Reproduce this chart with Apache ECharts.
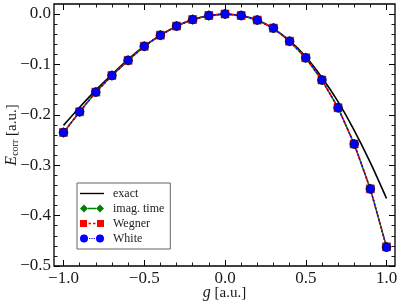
<!DOCTYPE html>
<html><head><meta charset="utf-8">
<script src="https://cdn.jsdelivr.net/npm/echarts@6/dist/echarts.min.js"></script>
<style>html,body{margin:0;padding:0;background:#fff}#c{width:399px;height:305px}</style>
</head><body><div id="c"></div>
<script>
// ---- data ----
const gValues = [-1.0,-0.9,-0.8,-0.7,-0.6,-0.5,-0.4,-0.3,-0.2,-0.1,0.0,0.1,0.2,0.3,0.4,0.5,0.6,0.7,0.8,0.9,1.0];
const exactE = [-0.221,-0.185,-0.151,-0.120,-0.090,-0.064,-0.042,-0.024,-0.011,-0.003,0.0,-0.003,-0.012,-0.029,-0.053,-0.085,-0.126,-0.174,-0.231,-0.295,-0.366];
const imagTimeE = [-0.235,-0.194,-0.155,-0.122,-0.092,-0.064,-0.042,-0.024,-0.011,-0.003,0.0,-0.003,-0.012,-0.028,-0.054,-0.087,-0.131,-0.186,-0.258,-0.347,-0.462];
const wegnerE = [-0.235,-0.194,-0.155,-0.122,-0.092,-0.064,-0.042,-0.024,-0.011,-0.003,0.0,-0.003,-0.012,-0.028,-0.054,-0.087,-0.131,-0.186,-0.258,-0.347,-0.462];
const whiteE = [-0.235,-0.194,-0.155,-0.122,-0.092,-0.064,-0.042,-0.024,-0.011,-0.003,0.0,-0.003,-0.012,-0.028,-0.054,-0.087,-0.131,-0.186,-0.258,-0.347,-0.463];
const xTickLabels = ['−1.0','−0.5','0.0','0.5','1.0'];
const yTickLabels = ['−0.5','−0.4','−0.3','−0.2','−0.1','0.0'];
const seriesNames = ['exact','imag. time','Wegner','White'];
const xTitle = '{i|g} [a.u.]';
const yTitle = '{i|E}{s|corr} [a.u.]';

// ---- chart ----
const FONT = 'Liberation Serif';
const TXT = '#1a1a1a';
const pairs = arr => gValues.map((g, i) => [g, arr[i]]);
const fmt = v => { if (Math.abs(v) < 1e-9) return '0.0'; return v.toFixed(1).replace('-', '−'); };
const tickStyle = {show: true, inside: true, length: 6, lineStyle: {color: '#000', width: 1}};
const minorStyle = {show: true, splitNumber: 5, length: 3.5, lineStyle: {color: '#000', width: 0.9}};
const noLine = {show: false, onZero: false};
const G = {containLabel: false, outerBoundsMode: 'none'};
const titleRich = {
  i: {fontFamily: FONT, fontSize: 16, fontStyle: 'italic', fill: TXT, color: TXT},
  s: {fontFamily: FONT, fontSize: 10, fill: TXT, color: TXT, padding: [6, 0, 0, 0], verticalAlign: 'bottom'}
};

const chart = echarts.init(document.getElementById('c'), null, {renderer: 'canvas'});
chart.setOption({
  animation: false,
  backgroundColor: '#fff',
  grid: [
    Object.assign({left: 54, right: 4, top: 4, bottom: 39, show: true, borderColor: '#000', borderWidth: 1.3, backgroundColor: 'transparent', z: 10}, G),
    Object.assign({left: 63.5, right: 12.5, top: 14, bottom: 39}, G),
    Object.assign({left: 54, right: 4, top: 14, bottom: 39}, G),
    Object.assign({left: 63.5, right: 12.5, top: 4, bottom: 39}, G)
  ],
  graphic: [
    {type: 'text', x: 224.5, y: 293, z: 20,
      style: {text: xTitle, rich: titleRich, fontFamily: FONT, fontSize: 15, fill: TXT, align: 'center', verticalAlign: 'middle'}},
    {type: 'text', x: 12, y: 135, rotation: Math.PI / 2, z: 20,
      style: {text: yTitle, rich: titleRich, fontFamily: FONT, fontSize: 15, fill: TXT, align: 'center', verticalAlign: 'middle'}}
  ],
  xAxis: [
    {gridIndex: 0, type: 'value', min: -1.059, max: 1.05, show: false, axisLine: noLine},
    {gridIndex: 1, type: 'value', min: -1, max: 1, interval: 0.5, position: 'bottom',
      axisLine: noLine, axisTick: tickStyle, minorTick: minorStyle, splitLine: {show: false},
      axisLabel: {margin: 4, fontFamily: FONT, fontSize: 17, color: TXT,
        formatter: v => xTickLabels[Math.round((v + 1) / 0.5)] || fmt(v)}},
    {gridIndex: 2, type: 'value', min: -1, max: 1, show: false, axisLine: noLine},
    {gridIndex: 3, type: 'value', min: -1, max: 1, interval: 0.5, position: 'top',
      axisLine: noLine, axisTick: tickStyle, minorTick: minorStyle, splitLine: {show: false}, axisLabel: {show: false}}
  ],
  yAxis: [
    {gridIndex: 0, type: 'value', min: -0.5, max: 0.02, show: false, axisLine: noLine},
    {gridIndex: 1, type: 'value', min: -0.5, max: 0, show: false, axisLine: noLine},
    {gridIndex: 2, type: 'value', min: -0.5, max: 0, interval: 0.1, position: 'left',
      axisLine: noLine, axisTick: tickStyle, minorTick: minorStyle, splitLine: {show: false},
      axisLabel: {margin: 3, fontFamily: FONT, fontSize: 17, color: TXT,
        formatter: v => yTickLabels[Math.round((v + 0.5) / 0.1)] || fmt(v)}},
    {gridIndex: 2, type: 'value', min: -0.5, max: 0, interval: 0.1, position: 'right',
      axisLine: noLine, axisTick: tickStyle, minorTick: minorStyle, splitLine: {show: false}, axisLabel: {show: false}},
    {gridIndex: 3, type: 'value', min: -0.5, max: 0.02, show: false, axisLine: noLine}
  ],
  legend: {
    orient: 'vertical', left: 77, top: 183,
    backgroundColor: '#fff', borderColor: '#555', borderWidth: 0.9, borderRadius: 0,
    padding: [4, 6, 4, 3], itemGap: 2, itemWidth: 24, itemHeight: 8,
    textStyle: {fontFamily: FONT, fontSize: 12, color: '#222', lineHeight: 13, padding: [0, 0, 0, 4]},
    data: [
      {name: seriesNames[0], icon: 'path://M0,3.3H24V4.7H0Z', itemStyle: {color: '#000', borderWidth: 0}},
      {name: seriesNames[1], icon: 'path://M0,4L4,0L8,4L4,8ZM16,4L20,0L24,4L20,8ZM8,3.3H16V4.7H8Z', itemStyle: {color: '#008000', borderWidth: 0}},
      {name: seriesNames[2], icon: 'path://M0,0.5H7V7.5H0ZM17,0.5H24V7.5H17ZM8.5,3.3H11V4.7H8.5ZM13,3.3H15.5V4.7H13ZM0,0H0.01V8H0Z', itemStyle: {color: '#ff0000', borderWidth: 0}},
      {name: seriesNames[3], icon: 'path://M0,4A4,4 0 1,0 8,4A4,4 0 1,0 0,4ZM16,4A4,4 0 1,0 24,4A4,4 0 1,0 16,4ZM9,3.4H10.2V4.6H9ZM11.4,3.4H12.6V4.6H11.4ZM13.8,3.4H15V4.6H13.8Z', itemStyle: {color: '#0000ff', borderWidth: 0}}
    ]
  },
  series: [
    {name: seriesNames[0], type: 'line', xAxisIndex: 1, yAxisIndex: 1, data: pairs(exactE), smooth: 0.3,
      showSymbol: false, symbol: 'none', clip: false, lineStyle: {color: '#000', width: 1.6}, itemStyle: {color: '#000'}},
    {name: seriesNames[1], type: 'line', xAxisIndex: 1, yAxisIndex: 1, data: pairs(imagTimeE), clip: false,
      symbol: 'diamond', symbolSize: [9, 10], lineStyle: {color: '#008000', width: 1.5},
      itemStyle: {color: '#008000', borderColor: '#003300', borderWidth: 0.5}},
    {name: seriesNames[2], type: 'line', xAxisIndex: 1, yAxisIndex: 1, data: pairs(wegnerE), clip: false,
      symbol: 'rect', symbolSize: 8, lineStyle: {color: '#ff0000', width: 1.5, type: [5, 2.5]},
      itemStyle: {color: '#ff0000', borderColor: '#550000', borderWidth: 0.5}},
    {name: seriesNames[3], type: 'line', xAxisIndex: 1, yAxisIndex: 1, data: pairs(whiteE), clip: false,
      symbol: 'circle', symbolSize: 8.5, lineStyle: {color: '#0000ff', width: 1.5, type: [1.5, 2.5]},
      itemStyle: {color: '#0000ff', borderColor: '#000033', borderWidth: 0.6}}
  ]
});
</script></body></html>
